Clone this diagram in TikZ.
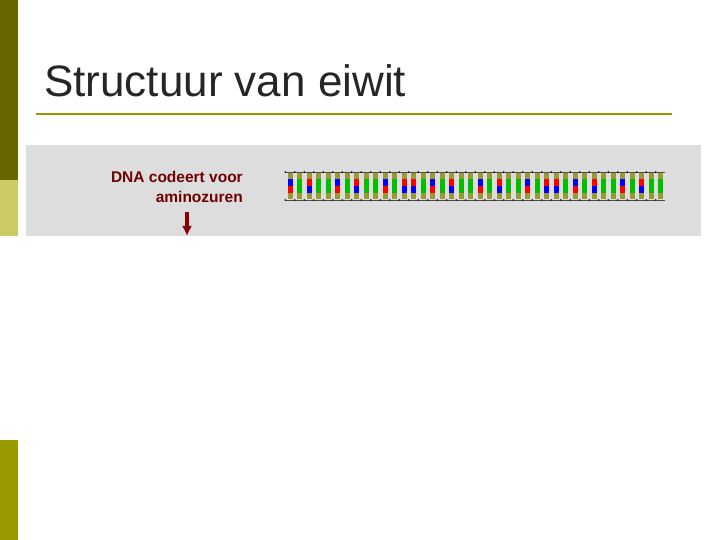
\documentclass[tikz,border=0pt]{standalone}
\usepackage{fontspec}
\setmainfont{Liberation Sans}
\usetikzlibrary{arrows.meta}
\definecolor{darkol}{HTML}{666600}
\definecolor{lightol}{HTML}{CCCC66}
\definecolor{midol}{HTML}{999900}
\definecolor{panel}{HTML}{DDDDDD}
\definecolor{dnared}{HTML}{8B0000}
\definecolor{knob}{HTML}{9A9A33}
\begin{document}
\begin{tikzpicture}[x=1pt,y=-1pt]
\useasboundingbox (0,0) rectangle (720,540);
\fill[white] (0,0) rectangle (720,540);
\fill[darkol] (0,0) rectangle (18,180);
\fill[lightol] (0,180) rectangle (18,236);
\fill[midol] (0,440) rectangle (18,540);
\node[anchor=base west,font=\fontsize{44}{50}\selectfont,text=black!85,inner sep=0] (title) at (44,97) {Structuur van eiwit};
\draw[midol,line width=2.5pt] (36,114) -- (672,114);
\fill[panel] (26,145) rectangle (701,236);
\node[anchor=east,align=right,font=\bfseries\fontsize{15.5}{20}\selectfont,text=dnared!80!black,inner sep=0] (lbl) at (243,187) {DNA codeert voor\\aminozuren};
\coordinate (arr) at (187,236);
\draw[dnared,line width=3.5pt,-{Latex[length=10pt,width=10pt]}] (187,212) -- (arr);
% DNA ladder
\draw[black!70,line width=0.8pt] (285,172) -- (665,172);
\draw[black!70,line width=0.8pt] (285,200) -- (665,200);
\foreach \i [evaluate=\i as \x using 290+\i*9.5,
  evaluate=\i as \a using {int(mod(\i*7+3,5))},
  evaluate=\i as \b using {int(mod(\i*11+1,3))}] in {0,...,39}{
  \fill[knob] (\x-2.5,173) rectangle (\x+2.5,179);
  \fill[knob] (\x-2.5,193) rectangle (\x+2.5,199);
  \ifnum\a<2 \def\cu{green!75!black}\def\cl{green!75!black}\else
  \ifnum\a=2 \def\cu{red}\def\cl{blue}\else
  \ifnum\a=3 \def\cu{blue}\def\cl{red}\else
   \def\cu{green!75!black}\def\cl{green!75!black}\fi\fi\fi
  \ifnum\b=0 \ifnum\a>3 \def\cu{red}\def\cl{blue}\fi\fi
  \fill[\cu] (\x-2.5,179) rectangle (\x+2.5,186);
  \fill[\cl] (\x-2.5,186) rectangle (\x+2.5,193);
  \fill[black] (\x-4.75,172) circle (0.9);
  \fill[black] (\x-4.75,200) circle (0.9);
}
\node[inner sep=0] (dna) at (475,186) {};
\end{tikzpicture}
\end{document}
